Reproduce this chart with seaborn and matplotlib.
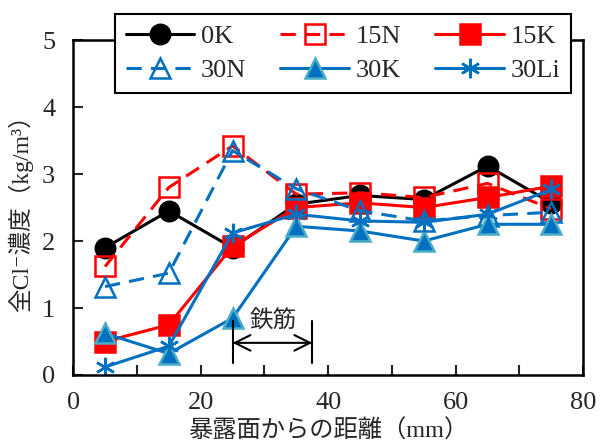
import matplotlib
matplotlib.use("Agg")
import matplotlib.pyplot as plt
import seaborn as sns
import pandas as pd

# depth from exposed surface (mm)
depth = [5, 15, 25, 35, 45, 55, 65, 75]

# total chloride content (kg/m3)
cl_0K = [1.90, 2.45, 1.90, 2.55, 2.68, 2.62, 3.12, 2.57]
cl_15N = [1.62, 2.80, 3.42, 2.70, 2.72, 2.65, 2.86, 2.48]
cl_15K = [0.50, 0.75, 1.92, 2.50, 2.57, 2.50, 2.65, 2.82]
cl_30N = [1.32, 1.52, 3.35, 2.78, 2.45, 2.30, 2.38, 2.43]
cl_30K = [0.62, 0.32, 0.85, 2.22, 2.15, 2.00, 2.25, 2.25]
cl_30Li = [0.12, 0.43, 2.12, 2.40, 2.30, 2.28, 2.40, 2.77]

series_names = ["0K", "15N", "15K", "30N", "30K", "30Li"]

# rebar position (mm)
rebar_from, rebar_to = 25, 37.5

sns.set_style("ticks")
mixed = ["Liberation Serif", "Noto Sans CJK JP", "DejaVu Sans"]
plt.rcParams["font.family"] = mixed
jp = ["Noto Sans CJK JP", "DejaVu Sans"]

df = pd.DataFrame({"depth": depth, "0K": cl_0K, "15N": cl_15N, "15K": cl_15K,
                   "30N": cl_30N, "30K": cl_30K, "30Li": cl_30Li})

blue = "#0070C0"
dash = (0, (5, 3))
styles = {
    "0K": dict(color="black", marker="o", linestyle="-", mfc="black", mec="black"),
    "15N": dict(color="red", marker="s", linestyle=dash, mfc="none", mec="red"),
    "15K": dict(color="red", marker="s", linestyle="-", mfc="red", mec="red"),
    "30N": dict(color=blue, marker="^", linestyle=dash, mfc="none", mec=blue),
    "30K": dict(color=blue, marker="^", linestyle="-", mfc=blue, mec="#4BACC6"),
    "30Li": dict(color=blue, marker=(6, 2, 0), linestyle="-", mfc=blue, mec=blue),
}

fig = plt.figure(figsize=(6, 4.43), dpi=100)
ax = fig.add_axes([0.122, 0.1535, 0.85, 0.756])

for name in series_names:
    st = styles[name]
    sns.lineplot(data=df, x="depth", y=name, ax=ax, label=name, lw=2.2,
                 markersize=14, mew=1.8, **st)

# rebar annotation
ax.plot([rebar_from, rebar_from], [0.18, 0.8], color="black", lw=1.5)
ax.plot([rebar_to, rebar_to], [0.18, 0.8], color="black", lw=1.5)
ax.annotate("", xy=(rebar_from, 0.48), xytext=(rebar_to, 0.48),
            arrowprops=dict(arrowstyle="<->", color="black", lw=1.5,
                            mutation_scale=28, shrinkA=0, shrinkB=0))
ax.text((rebar_from + rebar_to) / 2 + 0.2, 0.8, "鉄筋", family=jp, fontsize=17,
        ha="center", va="center")

ax.set_xlim(0, 80)
ax.set_ylim(0, 5)
ax.set_xticks([0, 20, 40, 60, 80])
ax.set_xticks(range(0, 81, 10), minor=True)
ax.set_yticks(range(0, 6))
ax.tick_params(which="both", direction="in", width=1.5, length=7, labelsize=19)
ax.tick_params(axis="x", pad=12)
ax.tick_params(axis="y", pad=13)
for sp in ax.spines.values():
    sp.set_linewidth(1.8)
    sp.set_color("black")

ax.set_xlabel("暴露面からの距離（mm）", family=mixed, fontsize=17.5, labelpad=4)
ax.set_ylabel("全Cl⁻濃度（kg/m³）", family=mixed, fontsize=17, labelpad=6)

handles, labels = ax.get_legend_handles_labels()
ax.legend_.remove()
# legend fills column-wise; reorder so rows read 0K 15N 15K / 30N 30K 30Li
order = [0, 3, 1, 4, 2, 5]
leg = fig.legend([handles[i] for i in order], [labels[i] for i in order],
                 ncol=3, loc="upper left", borderaxespad=0,
                 bbox_to_anchor=(115 / 600, 1 - 14 / 443), fontsize=19,
                 frameon=True, fancybox=False, framealpha=1, edgecolor="black",
                 handlelength=2.6, columnspacing=1.3, handletextpad=0.25,
                 borderpad=0.4, labelspacing=0.4)
leg.get_frame().set_linewidth(1.5)

fig.savefig("out.png", dpi=100)
